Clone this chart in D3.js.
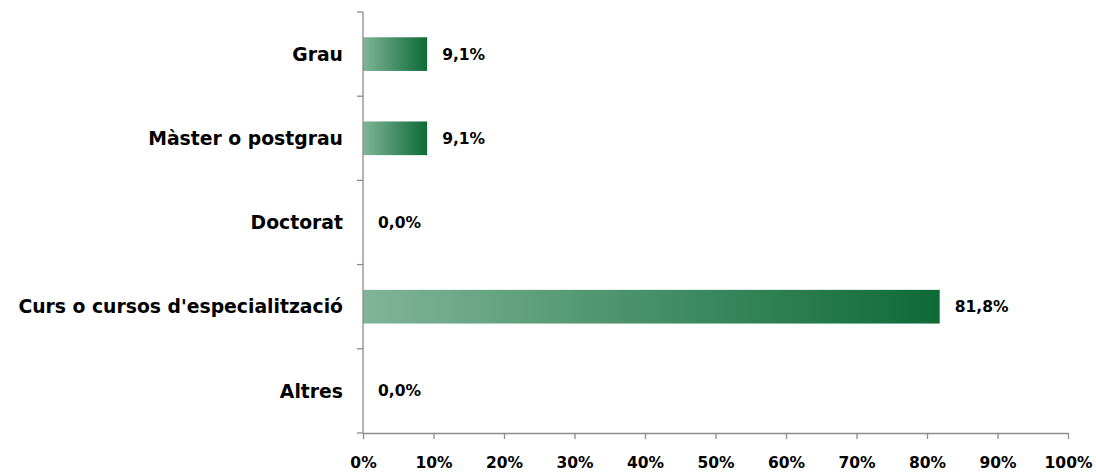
<!DOCTYPE html>
<html>
<head>
<meta charset="utf-8">
<script src="https://cdn.jsdelivr.net/npm/d3@7"></script>
<style>
  html, body { margin: 0; padding: 0; background: #fff; }
  svg { display: block; }
  text { font-family: Tahoma, "DejaVu Sans", Verdana, sans-serif; font-weight: bold; fill: #000; }
</style>
</head>
<body>
<svg id="chart" width="1096" height="473"></svg>
<script>
const categories = ["Grau", "Màster o postgrau", "Doctorat", "Curs o cursos d'especialització", "Altres"];
const values = [9.1, 9.1, 0.0, 81.8, 0.0];
const xTicks = [0, 10, 20, 30, 40, 50, 60, 70, 80, 90, 100];

const svg = d3.select("#chart");
const plotLeft = 363, plotRight = 1068, plotTop = 12, plotBottom = 433;

const x = d3.scaleLinear().domain([0, 100]).range([plotLeft, plotRight]);
const y = d3.scaleBand().domain(categories).range([plotTop, plotBottom]).paddingInner(0.6).paddingOuter(0.3);

const defs = svg.append("defs");
const grad = defs.append("linearGradient").attr("id", "barGrad")
  .attr("x1", "0%").attr("x2", "100%").attr("y1", "0%").attr("y2", "0%");
grad.append("stop").attr("offset", "0%").attr("stop-color", "#80b598");
grad.append("stop").attr("offset", "100%").attr("stop-color", "#0d6a37");

const fmt = v => v.toFixed(1).replace(".", ",") + "%";

// bars
svg.append("g").selectAll("rect").data(values).join("rect")
  .attr("x", x(0))
  .attr("y", (d, i) => y(categories[i]))
  .attr("width", d => x(d) - x(0))
  .attr("height", y.bandwidth())
  .attr("fill", "url(#barGrad)");

// value labels
svg.append("g").selectAll("text").data(values).join("text")
  .attr("x", d => x(d) + 15)
  .attr("y", (d, i) => y(categories[i]) + y.bandwidth() / 2)
  .attr("dy", "0.35em")
  .style("font-size", "15.5px")
  .text(d => fmt(d));

// y axis: line with tick marks at band boundaries
const axisColor = "#8c8c8c";
const yAxis = svg.append("g");
yAxis.append("line").attr("x1", plotLeft).attr("x2", plotLeft).attr("y1", plotTop).attr("y2", plotBottom)
  .attr("stroke", axisColor).attr("stroke-width", 1.3);
const step = (plotBottom - plotTop) / categories.length;
d3.range(categories.length + 1).forEach(i => {
  yAxis.append("line").attr("x1", plotLeft - 6).attr("x2", plotLeft)
    .attr("y1", plotTop + i * step).attr("y2", plotTop + i * step)
    .attr("stroke", axisColor).attr("stroke-width", 1.3);
});
yAxis.selectAll("text.cat").data(categories).join("text").attr("class", "cat")
  .attr("x", plotLeft - 20)
  .attr("y", d => y(d) + y.bandwidth() / 2)
  .attr("dy", "0.36em")
  .attr("text-anchor", "end")
  .style("font-size", "18.8px")
  .text(d => d);

// x axis
const xAxis = svg.append("g").attr("transform", `translate(0,${plotBottom})`)
  .call(d3.axisBottom(x).tickValues(xTicks).tickSize(6).tickSizeOuter(0).tickPadding(18)
    .tickFormat(d => d + "%"));
xAxis.select(".domain").attr("stroke", axisColor).attr("stroke-width", 1.3);
xAxis.selectAll(".tick line").attr("stroke", axisColor).attr("stroke-width", 1.3);
xAxis.selectAll(".tick text").style("font-size", "15.5px").attr("fill", "#000")
  .style("font-family", 'Tahoma, "DejaVu Sans", Verdana, sans-serif');
</script>
</body>
</html>
